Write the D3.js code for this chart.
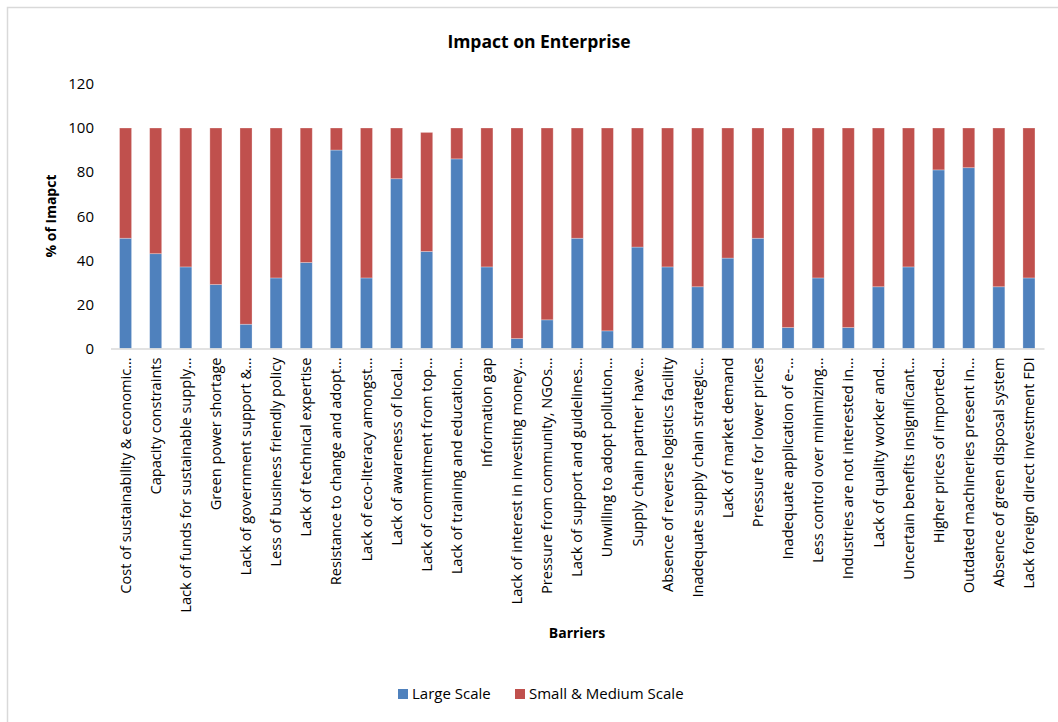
<!DOCTYPE html>
<html>
<head>
<meta charset="utf-8">
<script src="https://cdn.jsdelivr.net/npm/d3@7"></script>
<style>
  body { margin: 0; background: #fff; }
  text { font-family: "Open Sans", "Noto Sans", sans-serif; fill: #000; }
</style>
</head>
<body>
<svg id="chart" width="1058" height="722"></svg>
<script>
const barriers = [
  "Cost of sustainability & economic\u2026",
  "Capacity constraints",
  "Lack of funds for sustainable supply\u2026",
  "Green power shortage",
  "Lack of government support &\u2026",
  "Less of business friendly policy",
  "Lack of technical expertise",
  "Resistance to change and adopt\u2026",
  "Lack of eco-literacy amongst\u2026",
  "Lack of awareness of local\u2026",
  "Lack of commitment from top\u2026",
  "Lack of training and education\u2026",
  "Information gap",
  "Lack of interest in investing money\u2026",
  "Pressure from community, NGOs\u2026",
  "Lack of support and guidelines\u2026",
  "Unwilling to adopt pollution\u2026",
  "Supply chain partner have\u2026",
  "Absence of reverse logistics facility",
  "Inadequate supply chain strategic\u2026",
  "Lack of market demand",
  "Pressure for lower prices",
  "Inadequate application of e-\u2026",
  "Less control over minimizing\u2026",
  "Industries are not interested in\u2026",
  "Lack of quality worker and\u2026",
  "Uncertain benefits insignificant\u2026",
  "Higher prices of imported\u2026",
  "Outdated machineries present in\u2026",
  "Absence of green disposal system",
  "Lack foreign direct investment FDI"
]

const largeScale = [50, 43, 37, 29, 11, 32, 39, 90, 32, 77, 44, 86, 37, 4.5, 13, 50,
  8, 46, 37, 28, 41, 50, 9.5, 32, 9.5, 28, 37, 81, 82, 28, 32]
const smallMediumScale = [50, 57, 63, 71, 89, 68, 61, 10, 68, 23, 54, 14, 63, 95.5, 87, 50,
  92, 54, 63, 72, 59, 50, 90.5, 68, 90.5, 72, 63, 19, 18, 72, 68]

const yTicks = [0, 20, 40, 60, 80, 100, 120]
const seriesNames = ["Large Scale", "Small & Medium Scale"]
const colors = ["#4F81BD", "#C0504D"]

const svg = d3.select("#chart")

// chart border
svg.append("rect")
  .attr("x", 7.5).attr("y", 7.5)
  .attr("width", 1060).attr("height", 720)
  .attr("fill", "none")
  .attr("stroke", "#d9d9d9")
  .attr("stroke-width", 1.5)

const x = d3.scaleBand()
  .domain(barriers)
  .range([110.5, 1044])
  .paddingInner(0.6)
  .paddingOuter(0.3)

const y = d3.scaleLinear()
  .domain([0, 120])
  .range([348.5, 83.9])

const table = barriers.map((b, i) => ({ barrier: b, large: largeScale[i], small: smallMediumScale[i] }))
const stacked = d3.stack().keys(["large", "small"])(table)

svg.append("g")
  .selectAll("g")
  .data(stacked)
  .join("g")
  .attr("fill", (d, i) => colors[i])
  .selectAll("rect")
  .data(d => d)
  .join("rect")
  .attr("x", d => x(d.data.barrier))
  .attr("y", d => y(d[1]))
  .attr("width", x.bandwidth())
  .attr("height", d => y(d[0]) - y(d[1]))
  .attr("stroke", "#ffffff")
  .attr("stroke-opacity", 0.35)
  .attr("stroke-width", 0.8)

// y axis (labels only)
const yAxis = svg.append("g")
  .attr("transform", "translate(94,0)")
  .call(d3.axisLeft(y).tickValues(yTicks).tickSize(0).tickPadding(0))
yAxis.select(".domain").remove()
yAxis.selectAll("text")
  .style("font-size", "15px")
  .attr("fill", "#000")

// x axis
const xAxis = svg.append("g")
  .attr("transform", `translate(0,${y(0)})`)
  .call(d3.axisBottom(x).tickSize(0).tickSizeOuter(0).tickPadding(0))
xAxis.select(".domain")
  .attr("stroke", "#d9d9d9")
  .attr("stroke-width", 1.5)
xAxis.selectAll("text")
  .style("font-size", "14.6px")
  .attr("fill", "#000")
  .attr("text-anchor", "end")
  .attr("transform", "rotate(-90)")
  .attr("x", -9)
  .attr("y", 0)
  .attr("dy", "0.35em")

// titles
svg.append("text")
  .attr("x", 539).attr("y", 48)
  .attr("text-anchor", "middle")
  .style("font-size", "17.5px")
  .style("font-weight", "bold")
  .text("Impact on Enterprise")

svg.append("text")
  .attr("transform", "translate(56,216) rotate(-90)")
  .attr("text-anchor", "middle")
  .style("font-size", "14px")
  .style("font-weight", "bold")
  .text("% of Imapct")

svg.append("text")
  .attr("x", 577).attr("y", 638)
  .attr("text-anchor", "middle")
  .style("font-size", "14px")
  .style("font-weight", "bold")
  .text("Barriers")

// legend
const legendX = [398, 515]
const legend = svg.append("g")
  .selectAll("g")
  .data(seriesNames)
  .join("g")
  .attr("transform", (d, i) => `translate(${legendX[i]},689)`)
legend.append("rect")
  .attr("width", 10).attr("height", 10)
  .attr("fill", (d, i) => colors[i])
legend.append("text")
  .attr("x", 14).attr("y", 10)
  .style("font-size", "15px")
  .text(d => d)
</script>
</body>
</html>
